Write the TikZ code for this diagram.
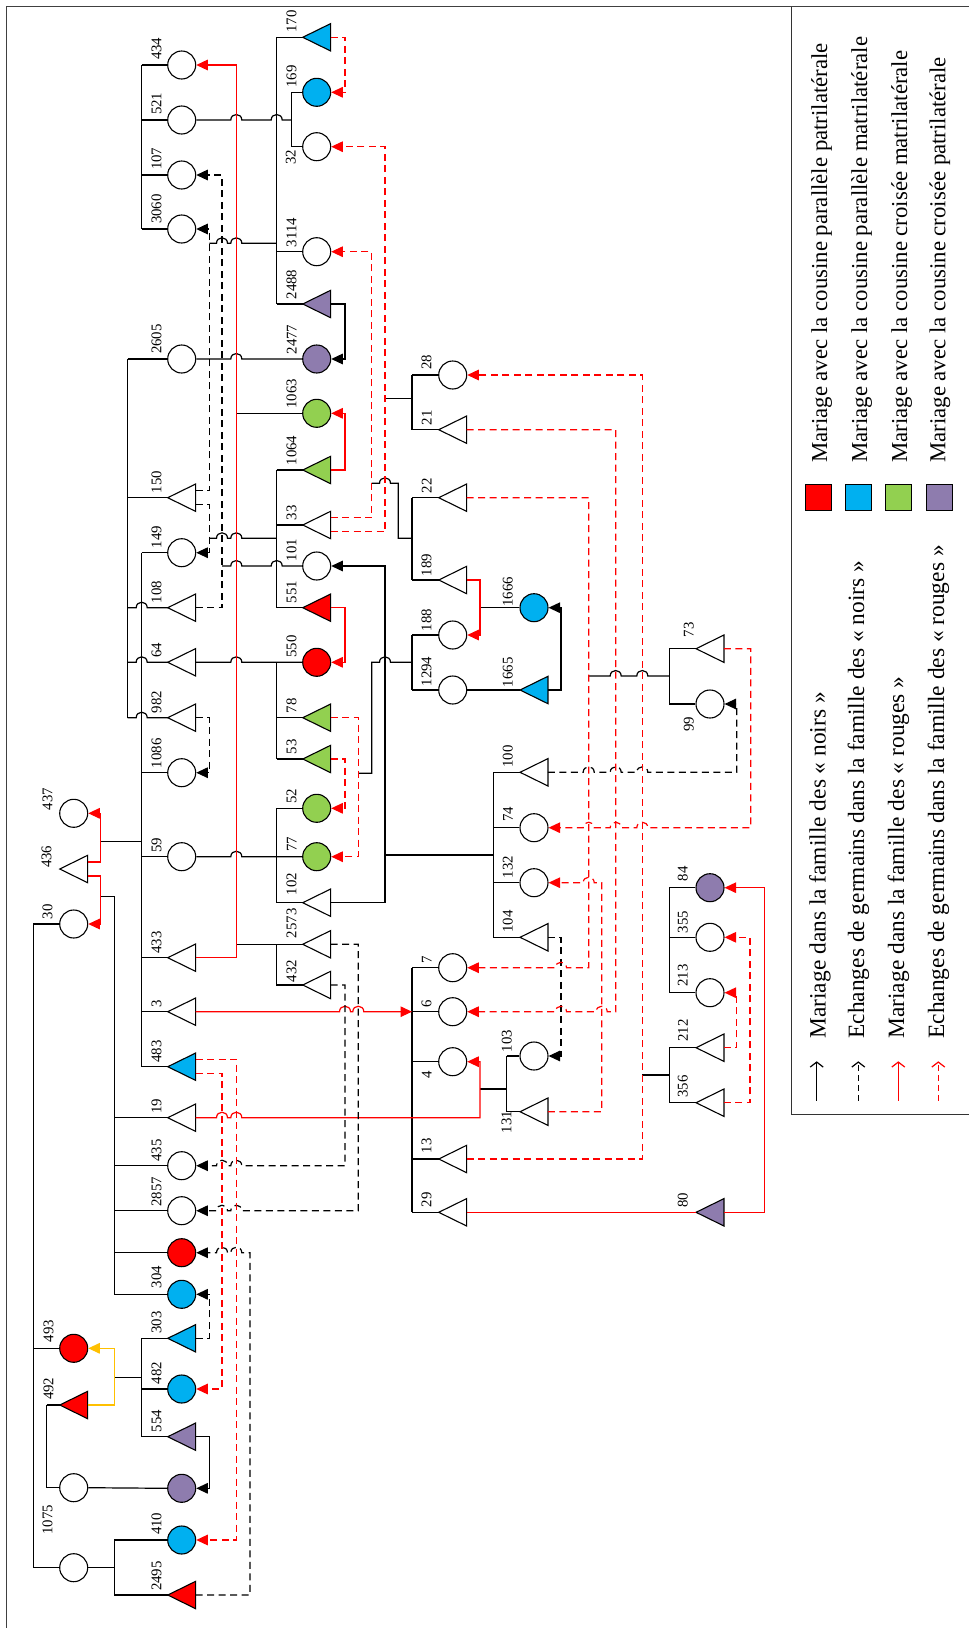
\documentclass[tikz,border=0pt]{standalone}
\usepackage{fontspec}
\setmainfont{Liberation Serif}
\usetikzlibrary{arrows.meta}
\definecolor{cblue}{HTML}{00B0F0}
\definecolor{cgreen}{HTML}{92D050}
\definecolor{cpurple}{HTML}{8E7CAE}
\definecolor{cyel}{HTML}{FFC000}
\newcommand\lbfont{\fontsize{14.8}{16}\selectfont}
\newcommand\lgfont{\fontsize{22.8}{26}\selectfont}
\newcommand\lgfontb{\fontsize{23.4}{26}\selectfont}
\newcommand\jmpR[2]{-- ({#1-5.5},#2) .. controls ({#1-5.5},{#2-7.3}) and ({#1+5.5},{#2-7.3}) .. ({#1+5.5},#2)}
\newcommand\jmpL[2]{-- ({#1+5.5},#2) .. controls ({#1+5.5},{#2-7.3}) and ({#1-5.5},{#2-7.3}) .. ({#1-5.5},#2)}
\newcommand\PC[7]{\node[pc,fill=#4] (n#1) at (#2,#3) {};\node[lab] (l#1) at ({#2+(#6)},{#3+(#7)}) {#5};}
\newcommand\PCn[4]{\node[pc,fill=#4] (n#1) at (#2,#3) {};}
\newcommand\PT[7]{\node[pt] (n#1) at (#2,#3) {};\filldraw[sym,fill=#4] (n#1.west) -- (n#1.north east) -- (n#1.south east) -- cycle;\node[lab] (l#1) at ({#2+(#6)},{#3+(#7)}) {#5};}
\begin{document}
\begin{tikzpicture}[x=1pt,y=-1pt,
  ln/.style={line width=1.2pt,black},
  rd/.style={line width=1.2pt,red},
  yl/.style={line width=1.2pt,cyel},
  dsh/.style={dash pattern=on 7pt off 4.5pt},
  ar/.style={-{Triangle[length=11.5pt,width=10.5pt]}},
  sym/.style={draw=black,line width=1.1pt},
  pc/.style={circle,draw=black,line width=1.1pt,minimum size=28pt,inner sep=0pt},
  pt/.style={rectangle,minimum width=27.5pt,minimum height=27pt,inner sep=0pt},
  lab/.style={rotate=90,anchor=south west,inner sep=0pt,font=\lbfont},
  lg/.style={rotate=90,anchor=west,inner sep=0pt,font=\lgfont},
  lgb/.style={rotate=90,anchor=west,inner sep=0pt,font=\lgfontb},
  sq/.style={rectangle,draw=black,line width=1pt,minimum size=26pt,inner sep=0pt},
  lga/.style={line width=1.2pt,-{Straight Barb[length=5pt,width=13pt]}}
]
\useasboundingbox (0,0) rectangle (969,1628);
% frame
\draw[line width=1pt,black!75] (6,1628) -- (6,6.7) -- (969,6.7);
\draw[line width=1pt,black!80] (791,6.7) -- (791,1114.3) -- (969,1114.3);

% ---------- persons ----------
% column A
\PC{437}{73.7}{813.3}{white}{437}{-21}{-3}
\PT{436}{73.7}{869}{white}{436}{-22}{-1}
\PC{30}{73.7}{924}{white}{30}{-21}{-4.5}
\PC{493}{73.7}{1348.3}{red}{493}{-20}{-6}
\PT{492}{73.7}{1405}{red}{492}{-20}{-5}
\PCn{u1}{73.7}{1487.7}{white}
\PC{1075}{73.7}{1567.7}{white}{1075}{-21}{-33}
% column B
\PC{434}{181.7}{65}{white}{434}{-20}{-5}
\PC{521}{181.7}{120}{white}{521}{-20}{-5}
\PC{107}{181.7}{175}{white}{107}{-20}{-5}
\PC{3060}{181.7}{229}{white}{3060}{-20}{-5}
\PC{2605}{181.7}{359}{white}{2605}{-20}{-5}
\PT{150}{181.7}{497.7}{white}{150}{-20}{-4.5}
\PC{149}{181.7}{552.7}{white}{149}{-20}{-4.5}
\PT{108}{181.7}{607.7}{white}{108}{-20}{-4.5}
\PT{64}{181.7}{662.3}{white}{64}{-20}{-4.5}
\PT{982}{181.7}{717.7}{white}{982}{-20}{-4.5}
\PC{1086}{181.7}{772.7}{white}{1086}{-20}{-4.5}
\PC{59}{181.7}{856.7}{white}{59}{-20}{-4}
\PT{433}{181.7}{957.7}{white}{433}{-20}{-4}
\PT{3}{181.7}{1011.7}{white}{3}{-20}{-4}
\PT{483}{181.7}{1066.7}{cblue}{483}{-20}{-4}
\PT{19}{181.7}{1117.7}{white}{19}{-20}{-4}
\PC{435}{181.7}{1165.7}{white}{435}{-20}{-4}
\PC{2857}{181.7}{1210.7}{white}{2857}{-20}{-4}
\PCn{R}{181.7}{1252.7}{red}
\PC{304}{181.7}{1294.3}{cblue}{304}{-20}{-6}
\PT{303}{181.7}{1338.3}{cblue}{303}{-20}{-4.5}
\PC{482}{181.7}{1389}{cblue}{482}{-20}{-4.5}
\PT{554}{181.7}{1436.7}{cpurple}{554}{-20}{-4.5}
\PCn{P}{181.7}{1488.3}{cpurple}
\PC{410}{181.7}{1540}{cblue}{410}{-20}{-5}
\PT{2495}{181.7}{1595}{red}{2495}{-20}{-4}
% column C
\PT{170}{316.7}{37.3}{cblue}{170}{-20}{-4.5}
\PC{169}{316.7}{92.3}{cblue}{169}{-20}{-4.5}
\PC{32}{316.7}{146.7}{white}{32}{-20.7}{18.3}
\PC{3114}{316.7}{251.7}{white}{3114}{-20}{-4.5}
\PT{2488}{316.7}{304}{cpurple}{2488}{-20}{-4.5}
\PC{2477}{316.7}{359}{cpurple}{2477}{-20}{-4.5}
\PC{1063}{316.7}{413.3}{cgreen}{1063}{-20}{-4.5}
\PT{1064}{316.7}{470}{cgreen}{1064}{-20}{-4.5}
\PT{33}{316.7}{525}{white}{33}{-20}{-4.5}
\PC{101}{316.7}{566}{white}{101}{-20}{-4.5}
\PT{551}{316.7}{607.7}{red}{551}{-20}{-4.5}
\PC{550}{316.7}{662.3}{red}{550}{-20}{-4.5}
\PT{78}{316.7}{717.7}{cgreen}{78}{-20}{-4.5}
\PT{53}{316.7}{759}{cgreen}{53}{-20}{-4.5}
\PC{52}{316.7}{808.3}{cgreen}{52}{-20}{-4.5}
\PC{77}{316.7}{856.7}{cgreen}{77}{-20}{-5}
\PT{102}{316.7}{902.7}{white}{102}{-20}{-7.5}
\PT{2573}{316.7}{944.3}{white}{2573}{-20}{-6}
\PT{432}{316.7}{985}{white}{432}{-20}{-2.5}
% column D
\PC{28}{452.7}{375}{white}{28}{-21}{-5}
\PT{21}{452.7}{429.7}{white}{21}{-21}{-4.5}
\PT{22}{452.7}{497.7}{white}{22}{-21}{-4.5}
\PT{189}{452.7}{580}{white}{189}{-21}{-3.5}
\PC{188}{452.7}{635}{white}{188}{-21}{-3.5}
\PC{1294}{452.7}{690}{white}{1294}{-21}{-3.5}
\PC{7}{452.7}{967.7}{white}{7}{-21}{-4.5}
\PC{6}{452.7}{1011.7}{white}{6}{-21}{-4}
\PC{4}{452.7}{1061.7}{white}{4}{-21}{16.6}
\PT{13}{452.7}{1159}{white}{13}{-21}{-5.5}
\PT{29}{452.7}{1212.3}{white}{29}{-21}{-5}
% column E
\PC{1666}{534}{607.7}{cblue}{1666}{-21}{-1}
\PT{1665}{534}{690}{cblue}{1665}{-21}{-2.7}
\PT{100}{534}{772.3}{white}{100}{-21}{-4.5}
\PC{74}{534}{827.7}{white}{74}{-21}{-6}
\PC{132}{534}{882.7}{white}{132}{-21}{-4.5}
\PT{104}{534}{937.3}{white}{104}{-21}{-4.5}
\PC{103}{534}{1056}{white}{103}{-22}{-3.7}
\PT{131}{534}{1111.7}{white}{131}{-22.3}{21.6}
% column F
\PT{73}{710}{648.7}{white}{73}{-16}{-11.4}
\PC{99}{710}{704}{white}{99}{-16}{27.7}
\PC{84}{710}{887.7}{cpurple}{84}{-22}{-6.5}
\PC{355}{710}{937.3}{white}{355}{-22}{-4}
\PC{213}{710}{992.7}{white}{213}{-22}{-6}
\PT{212}{710}{1047.7}{white}{212}{-22}{-6}
\PT{356}{710}{1102.7}{white}{356}{-22}{-5}
\PT{80}{710}{1212.3}{cpurple}{80}{-22}{-4.3}

% ---------- descent lines (black) ----------
\draw[ln] (141.7,65) -- (141.7,229);
\foreach \n/\y in {434/65,521/120,107/175,3060/229} \draw[ln] (141.7,\y) -- (n\n.west);
\draw[ln] (127.7,359) -- (127.7,717.7);
\draw[ln] (127.7,359) -- (n2605.west);
\draw[ln] (127.7,497.7) -- (n150.west);
\draw[ln] (127.7,607.7) \jmpR{141.7}{607.7} -- (n108.west);
\draw[ln] (127.7,662.3) \jmpR{141.7}{662.3} -- (n64.west);
\draw[ln] (127.7,717.7) \jmpR{141.7}{717.7} -- (n982.west);
\draw[ln] (141.7,552.7) -- (141.7,1066.7);
\foreach \n/\y in {149/552.7,1086/772.7,59/856.7,433/957.7,3/1011.7,483/1066.7} \draw[ln] (141.7,\y) -- (n\n.west);
\draw[ln] (100.7,841.3) -- (141.7,841.3);
\draw[ln] (100.7,896.7) -- (114.3,896.7) -- (114.3,1294.3);
\foreach \n/\y in {19/1117.7,435/1165.7,2857/1210.7,R/1252.7,304/1294.3} \draw[ln] (114.3,\y) -- (n\n.west);
\draw[ln] (33.3,924) -- (33.3,1567.7);
\foreach \n/\y in {30/924,493/1348.3,1075/1567.7} \draw[ln] (33.3,\y) -- (n\n.west);
\draw[ln] (46.7,1405) -- (46.7,1487.7);
\foreach \n/\y in {492/1405,u1/1487.7} \draw[ln] (46.7,\y) -- (n\n.west);
\draw[ln] (nu1.east) -- (nP.west);
\draw[ln] (114.3,1377.7) -- (141.7,1377.7);
\draw[ln] (141.7,1338.3) -- (141.7,1436.7);
\foreach \n/\y in {303/1338.3,482/1389,554/1436.7} \draw[ln] (141.7,\y) -- (n\n.west);
\draw[ln] (n1075.east) -- (114.3,1567.7);
\draw[ln] (114.3,1540) -- (114.3,1595);
\foreach \n/\y in {410/1540,2495/1595} \draw[ln] (114.3,\y) -- (n\n.west);
% column C groups
\draw[ln] (276.7,37.3) -- (276.7,304);
\foreach \n/\y in {170/37.3,3114/251.7,2488/304} \draw[ln] (276.7,\y) -- (n\n.west);
\draw[ln] (291.7,92.3) -- (291.7,146.7);
\foreach \n/\y in {169/92.3,32/146.7} \draw[ln] (291.7,\y) -- (n\n.west);
\draw[ln] (n521.east) \jmpR{236.3}{120} \jmpR{276.7}{120} -- (291.7,120);
\draw[ln] (209.3,243.3) \jmpR{222}{243.3} \jmpR{236.3}{243.3} -- (276.7,243.3);
\draw[ln] (n2605.east) \jmpR{236.3}{359} -- (n2477.west);
\draw[ln] (236.3,413.3) -- (n1063.west);
\draw[ln] (276.7,470) -- (276.7,607.7);
\foreach \n/\y in {1064/470,33/525,551/607.7} \draw[ln] (276.7,\y) -- (n\n.west);
\draw[ln] (209.3,538.3) \jmpR{222}{538.3} \jmpR{236.3}{538.3} -- (276.7,538.3);
\draw[ln] (222,566) \jmpR{236.3}{566} \jmpR{276.7}{566} -- (n101.west);
\draw[ln] (n64.east) \jmpR{236.3}{662.3} -- (n550.west);
\draw[ln] (276.7,662.3) -- (276.7,759);
\foreach \n/\y in {78/717.7,53/759} \draw[ln] (276.7,\y) -- (n\n.west);
\draw[ln] (n59.east) \jmpR{236.3}{856.7} -- (n77.west);
\draw[ln] (276.7,808.3) -- (276.7,902.7);
\foreach \n/\y in {52/808.3,102/902.7} \draw[ln] (276.7,\y) -- (n\n.west);
\draw[ln] (236.3,944.3) -- (n2573.west);
\draw[ln] (276.7,944.3) -- (276.7,985) -- (n432.west);
\draw[ln,ar] (n102.east) -- (385,902.7) -- (385,566) -- (n101.east);
\draw[ln] (385,855) -- (493.3,855);
\draw[ln] (493.3,772.3) -- (493.3,937.3);
\foreach \n/\y in {100/772.3,74/827.7,132/882.7,104/937.3} \draw[ln] (493.3,\y) -- (n\n.west);
% column D groups
\draw[ln] (385,398.3) -- (412,398.3);
\draw[ln] (412,375) -- (412,429.7);
\foreach \n/\y in {28/375,21/429.7} \draw[ln] (412,\y) -- (n\n.west);
\draw[ln] (371.7,483.3) \jmpR{385}{483.3} -- (398.3,483.3) -- (398.3,538.3) -- (412,538.3);
\draw[ln] (412,497.7) -- (412,580);
\foreach \n/\y in {22/497.7,189/580} \draw[ln] (412,\y) -- (n\n.west);
\draw[ln] (358.3,773.3) -- (371.7,773.3) -- (371.7,662.3) \jmpR{385}{662.3} -- (412,662.3);
\draw[ln] (412,635) -- (412,690);
\foreach \n/\y in {188/635,1294/690} \draw[ln] (412,\y) -- (n\n.west);
\draw[ln] (480,607.7) -- (n1666.west);
\draw[ln] (n1294.east) -- (n1665.west);
\draw[ln,ar] (n1665.east) -- (561,690) -- (561,607.7) -- (n1666.east);
\draw[ln] (588.7,676) \jmpR{615.7}{676} \jmpR{642.3}{676} -- (669.3,676);
\draw[ln] (669.3,648.7) -- (669.3,704);
\foreach \n/\y in {73/648.7,99/704} \draw[ln] (669.3,\y) -- (n\n.west);
\draw[ln] (412,967.7) -- (412,1212.3);
\foreach \n/\y in {7/967.7,6/1011.7,4/1061.7,13/1159,29/1212.3} \draw[ln] (412,\y) -- (n\n.west);
\draw[ln] (480,1089) -- (506.7,1089);
\draw[ln] (506.7,1056) -- (506.7,1111.7);
\foreach \n/\y in {103/1056,131/1111.7} \draw[ln] (506.7,\y) -- (n\n.west);
\draw[ln] (669.3,887.7) -- (669.3,992.7);
\foreach \n/\y in {84/887.7,355/937.3,213/992.7} \draw[ln] (669.3,\y) -- (n\n.west);
\draw[ln] (642.3,1075) -- (669.3,1075);
\draw[ln] (669.3,1047.7) -- (669.3,1102.7);
\foreach \n/\y in {212/1047.7,356/1102.7} \draw[ln] (669.3,\y) -- (n\n.west);

% ---------- marriages ----------
\draw[ln,ar] (n2488.east) -- (345,304) -- (345,359) -- (n2477.east);
\draw[ln,ar] (n554.east) -- (209.3,1436.7) -- (209.3,1488.3) -- (nP.east);
\draw[yl,ar] (n492.east) -- (114.3,1405) -- (114.3,1348.3) -- (n493.east);
\draw[rd,ar] ([yshift=7pt]n436.east) -- (100.7,862) -- (100.7,813.3) -- (n437.east);
\draw[rd,ar] ([yshift=-7pt]n436.east) -- (100.7,876) -- (100.7,924) -- (n30.east);
\draw[rd,ar] (n433.east) -- (236.3,957.7) -- (236.3,65) -- (n434.east);
\draw[rd,ar] (n1064.east) -- (345,470) -- (345,413.3) -- (n1063.east);
\draw[rd,ar] (n551.east) -- (345,607.7) -- (345,662.3) -- (n550.east);
\draw[rd,ar] (n189.east) -- (480,580) -- (480,635) -- (n188.east);
\draw[rd,ar] (n3.east) \jmpR{345}{1011.7} \jmpR{358.3}{1011.7} -- (412,1011.7);
\draw[rd,ar] (n19.east) \jmpR{222}{1117.7} \jmpR{236.3}{1117.7} -- (480,1117.7) -- (480,1061.7) -- (n4.east);
\draw[rd] (n29.east) -- (n80.west);
\draw[rd,ar] (n80.east) -- (764.3,1212.3) -- (764.3,887.7) -- (n84.east);

% ---------- exchanges (black dashed) ----------
\draw[ln,dsh,ar] (n108.east) -- (222,607.7) -- (222,175) -- (n107.east);
\draw[ln,dsh,ar] ([yshift=7pt]n150.east) -- (209.3,490.7) -- (209.3,229) -- (n3060.east);
\draw[ln,dsh,ar] ([yshift=-6.6pt]n150.east) -- (209.3,504.3) -- (209.3,552.7) -- (n149.east);
\draw[ln,dsh,ar] (n982.east) -- (209.3,717.7) -- (209.3,772.7) -- (n1086.east);
\draw[ln,dsh,ar] (n2573.east) -- (358.3,944.3) -- (358.3,1210.7) \jmpL{236.3}{1210.7} \jmpL{222}{1210.7} -- (n2857.east);
\draw[ln,dsh,ar] (n432.east) -- (345,985) -- (345,1165.7) \jmpL{236.3}{1165.7} \jmpL{222}{1165.7} -- (n435.east);
\draw[ln,dsh,ar] (n2495.east) -- (250,1595) -- (250,1252.7) \jmpL{236.3}{1252.7} \jmpL{222}{1252.7} -- (nR.east);
\draw[ln,dsh,ar] (n303.east) -- (209.3,1338.3) -- (209.3,1294.3) -- (n304.east);
\draw[ln,dsh,ar] (n104.east) -- (561,937.3) -- (561,1056) -- (n103.east);
\draw[ln,dsh,ar] (n100.east) \jmpR{588.7}{772.3} \jmpR{615.7}{772.3} \jmpR{642.3}{772.3} -- (736.7,772.3) -- (736.7,704) -- (n99.east);

% ---------- exchanges (red dashed) ----------
\draw[rd,dsh,ar] (n170.east) -- (345,37.3) -- (345,92.3) -- (n169.east);
\draw[rd,dsh,ar] ([yshift=7.3pt]n33.east) -- (371.7,517.7) -- (371.7,251.7) -- (n3114.east);
\draw[rd,dsh,ar] ([yshift=-6.7pt]n33.east) -- (385,531.7) -- (385,146.7) -- (n32.east);
\draw[rd,dsh,ar] (n78.east) -- (358.3,717.7) -- (358.3,856.7) -- (n77.east);
\draw[rd,dsh,ar] (n53.east) -- (345,759) -- (345,808.3) -- (n52.east);
\draw[rd,dsh,ar] ([yshift=-6.6pt]n483.east) -- (222,1073.3) -- (222,1389) -- (n482.east);
\draw[rd,dsh,ar] ([yshift=7.4pt]n483.east) -- (236.3,1059.3) -- (236.3,1540) -- (n410.east);
\draw[rd,dsh,ar] (n13.east) -- (642.3,1159) -- (642.3,375) -- (n28.east);
\draw[rd,dsh,ar] (n21.east) -- (615.7,429.7) -- (615.7,1011.7) \jmpL{601.7}{1011.7} \jmpL{561}{1011.7} -- (n6.east);
\draw[rd,dsh,ar] (n22.east) -- (588.7,497.7) -- (588.7,967.7) \jmpL{561}{967.7} -- (n7.east);
\draw[rd,dsh,ar] (n73.east) -- (750.7,648.7) -- (750.7,827.7) \jmpL{642.3}{827.7} \jmpL{615.7}{827.7} \jmpL{588.7}{827.7} -- (n74.east);
\draw[rd,dsh,ar] (n131.east) -- (601.7,1111.7) -- (601.7,882.7) \jmpL{588.7}{882.7} -- (n132.east);
\draw[rd,dsh,ar] (n212.east) -- (736.7,1047.7) -- (736.7,992.7) -- (n213.east);
\draw[rd,dsh,ar] (n356.east) -- (750,1102.7) -- (750,937.3) -- (n355.east);

% ---------- legend ----------
\node[sq,fill=red] (k1) at (818.3,497) {};
\node[sq,fill=cblue] (k2) at (858.3,497) {};
\node[sq,fill=cgreen] (k3) at (898.3,497) {};
\node[sq,fill=cpurple] (k4) at (939.7,497) {};
\node[lg] (t1) at (821.7,463) {Mariage avec la cousine parallèle patrilatérale};
\node[lg] (t2) at (861.7,463) {Mariage avec la cousine parallèle matrilatérale};
\node[lg] (t3) at (901.7,463) {Mariage avec la cousine croisée matrilatérale};
\node[lg] (t4) at (940,463) {Mariage avec la cousine croisée patrilatérale};
\coordinate (a1s) at (816.7,1100.8); \coordinate (a1e) at (816.7,1061.3);
\coordinate (a2s) at (858.3,1100.8); \coordinate (a2e) at (858.3,1061.3);
\coordinate (a3s) at (898.3,1100.8); \coordinate (a3e) at (898.3,1061.3);
\coordinate (a4s) at (938.3,1100.8); \coordinate (a4e) at (938.3,1061.3);
\draw[lga] (a1s) -- (a1e);
\draw[lga,dash pattern=on 6pt off 4pt] (a2s) -- (a2e);
\draw[lga,red] (a3s) -- (a3e);
\draw[lga,red,dash pattern=on 6pt off 4pt] (a4s) -- (a4e);
\node[lgb] (t5) at (820,1038.7) {Mariage dans la famille des «~noirs~»};
\node[lgb] (t6) at (858.3,1038.7) {Echanges de germains dans la famille des «~noirs~»};
\node[lgb] (t7) at (898.3,1038.7) {Mariage dans la famille des «~rouges~»};
\node[lgb] (t8) at (938.3,1038.7) {Echanges de germains dans la famille des «~rouges~»};
\end{tikzpicture}
\end{document}
